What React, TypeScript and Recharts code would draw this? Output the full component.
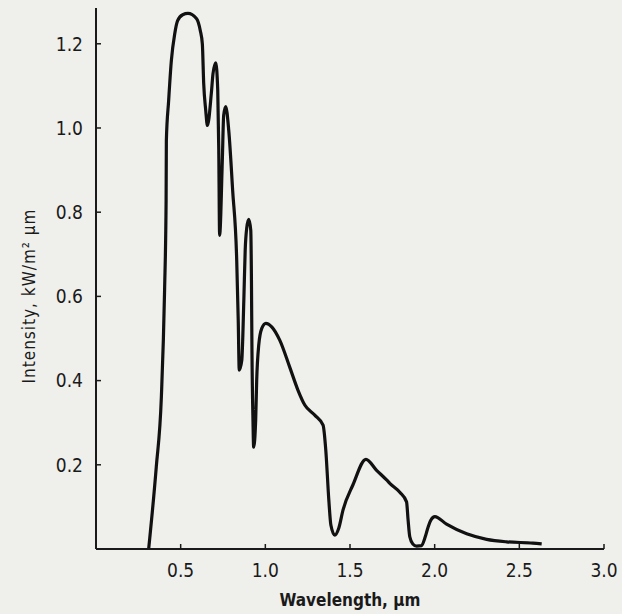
import React from 'react';
import { LineChart, Line, XAxis, YAxis, Label } from 'recharts';

if (typeof document !== 'undefined') {
  document.body.style.margin = '0';
}

// Wavelength in micrometres
const wavelength = [
  0.311, 0.356, 0.386, 0.405, 0.414, 0.4155, 0.429, 0.445, 0.465, 0.482,
  0.512, 0.543, 0.593, 0.616, 0.628, 0.636, 0.648, 0.658, 0.681, 0.691,
  0.707, 0.719, 0.725, 0.73, 0.746, 0.754, 0.766, 0.784, 0.807, 0.831,
  0.84, 0.846, 0.861, 0.873, 0.881, 0.89, 0.902, 0.914, 0.918, 0.921,
  0.927, 0.931, 0.943, 0.949, 0.961, 0.979, 1.003, 1.039, 1.085, 1.144,
  1.193, 1.233, 1.292, 1.341, 1.357, 1.375, 1.387, 1.41, 1.434, 1.459,
  1.517, 1.594, 1.657, 1.716, 1.735, 1.794, 1.834, 1.843, 1.853, 1.871,
  1.893, 1.923, 1.942, 1.962, 1.978, 2.001, 2.07, 2.189, 2.307, 2.425,
  2.58, 2.632,
];

// Intensity, kW/m2 um
const intensity = [
  0.0, 0.195, 0.361, 0.614, 0.828, 0.97, 1.065, 1.16, 1.224, 1.255,
  1.269, 1.272, 1.26, 1.231, 1.2, 1.106, 1.042, 1.006, 1.082, 1.129,
  1.155, 1.089, 0.947, 0.745, 0.923, 1.03, 1.051, 0.994, 0.852, 0.686,
  0.543, 0.425, 0.448, 0.591, 0.709, 0.762, 0.783, 0.757, 0.638, 0.472,
  0.306, 0.242, 0.306, 0.401, 0.484, 0.524, 0.536, 0.527, 0.496, 0.432,
  0.377, 0.342, 0.318, 0.294, 0.235, 0.116, 0.057, 0.033, 0.05, 0.093,
  0.152, 0.213, 0.187, 0.164, 0.156, 0.135, 0.112, 0.069, 0.029, 0.012,
  0.007, 0.008, 0.026, 0.053, 0.069, 0.077, 0.059, 0.036, 0.023, 0.017,
  0.014, 0.012,
];

const xTicks = [0.5, 1.0, 1.5, 2.0, 2.5, 3.0];
const yTicks = [0.2, 0.4, 0.6, 0.8, 1.0, 1.2];

const data = wavelength.map((w, i) => ({ w, v: intensity[i] }));

const font = "'DejaVu Sans Condensed', 'Liberation Sans Narrow', 'DejaVu Sans', sans-serif";
const ink = '#1a1a1a';

const App = () => {
  return (
    <div style={{ width: 622, height: 614, background: '#efefec', overflow: 'hidden' }}>
      <LineChart
        width={622}
        height={614}
        data={data}
        margin={{ top: 8, right: 18, left: 0, bottom: 0 }}
      >
        <XAxis
          dataKey="w"
          type="number"
          domain={[0, 3]}
          ticks={xTicks}
          tickFormatter={(t: number) => t.toFixed(1)}
          height={65}
          tickSize={-5}
          tickMargin={20}
          axisLine={{ stroke: ink, strokeWidth: 2 }}
          tickLine={{ stroke: ink, strokeWidth: 1.5 }}
          tick={{ fill: ink, fontSize: 19, fontFamily: font }}
        >
          <Label
            value="Wavelength, μm"
            position="insideBottom"
            offset={8}
            style={{ fill: ink, fontSize: 17, fontWeight: 'bold', fontFamily: font }}
          />
        </XAxis>
        <YAxis
          type="number"
          domain={[0, 1.285]}
          ticks={yTicks}
          tickFormatter={(t: number) => t.toFixed(1)}
          width={96}
          tickSize={-5}
          tickMargin={18}
          axisLine={{ stroke: ink, strokeWidth: 2 }}
          tickLine={{ stroke: ink, strokeWidth: 1.5 }}
          tick={{ fill: ink, fontSize: 19, fontFamily: font }}
        >
          <Label
            content={() => (
              <text
                x={35}
                y={296}
                transform="rotate(-90 35 296)"
                textAnchor="middle"
                fill={ink}
                fontSize={17}
                letterSpacing={1}
                fontFamily={font}
              >
                Intensity, kW/m² μm
              </text>
            )}
          />
        </YAxis>
        <Line
          type="monotone"
          dataKey="v"
          stroke="#111"
          strokeWidth={3.2}
          dot={false}
          isAnimationActive={false}
        />
      </LineChart>
    </div>
  );
};

export default App;
